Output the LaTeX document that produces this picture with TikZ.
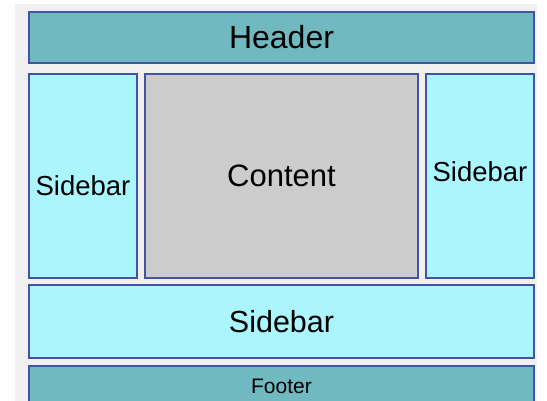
\documentclass[tikz,border=0pt]{standalone}
\usepackage{fontspec}
\setmainfont{Liberation Sans}
\usepackage{xcolor}
\usepackage{tikz}

\definecolor{pagebg}{HTML}{F0F0F0}
\definecolor{headcol}{HTML}{71B9C0}
\definecolor{sidecol}{HTML}{AAF5FE}
\definecolor{maincol}{HTML}{CCCCCC}
\definecolor{edgecol}{HTML}{4553A4}

\begin{document}
\begin{tikzpicture}[x=1pt,y=-1pt,
		block/.style={draw=edgecol,line width=2pt,inner sep=0pt,anchor=north west,text=black},
		headblock/.style={block,fill=headcol},
		sideblock/.style={block,fill=sidecol},
		mainblock/.style={block,fill=maincol}]
		\useasboundingbox (0,0) rectangle (547,401);
		\clip (0,0) rectangle (547,401);
		\fill[pagebg] (15,4) rectangle (537,401);
		
		% top row
		\node[headblock,minimum width=505pt,minimum height=51pt,font=\fontsize{32}{36}\selectfont]
		(header) at (28,11) {Header};
		
		% middle row
		\node[sideblock,minimum width=108pt,minimum height=204pt,
		label={[font=\fontsize{27.5}{32}\selectfont,yshift=-10pt]center:Sidebar}]
		(leftside) at (28,73) {};
		\node[mainblock,minimum width=273pt,minimum height=204pt,font=\fontsize{31}{36}\selectfont]
		(content) at (144,73) {Content};
		\node[sideblock,minimum width=108pt,minimum height=204pt,
		label={[font=\fontsize{27.5}{32}\selectfont,yshift=4pt]center:Sidebar}]
		(rightside) at (425,73) {};
		
		% bottom rows
		\node[sideblock,minimum width=505pt,minimum height=73pt,font=\fontsize{30.5}{35}\selectfont]
		(bottomside) at (28,284) {Sidebar};
		\node[headblock,minimum width=505pt,minimum height=40pt,font=\fontsize{21}{25}\selectfont]
		(footer) at (28,365) {Footer};
	\end{tikzpicture}
\end{document}
